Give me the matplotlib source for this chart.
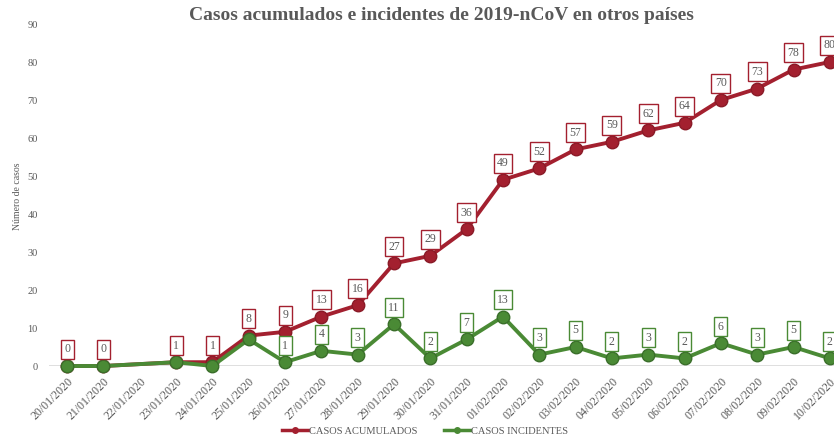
import numpy as np
import matplotlib.pyplot as plt
from matplotlib.lines import Line2D

# Data
fechas = ['20/01/2020', '21/01/2020', '22/01/2020', '23/01/2020', '24/01/2020',
          '25/01/2020', '26/01/2020', '27/01/2020', '28/01/2020', '29/01/2020',
          '30/01/2020', '31/01/2020', '01/02/2020', '02/02/2020', '03/02/2020',
          '04/02/2020', '05/02/2020', '06/02/2020', '07/02/2020', '08/02/2020',
          '09/02/2020', '10/02/2020']
# 22/01 has no value in the source (line joins 21/01 and 23/01)
acumulados = [0, 0, None, 1, 1, 8, 9, 13, 16, 27, 29, 36, 49, 52, 57, 59, 62, 64, 70, 73, 78, 80]
incidentes = [0, 0, None, 1, 0, 7, 1, 4, 3, 11, 2, 7, 13, 3, 5, 2, 3, 2, 6, 3, 5, 2]
# green labels are hidden for the first days
incid_label_from = 6

RED = '#a3202f'
GREEN = '#4a8a35'
GREY = '#595959'
SERIF = 'Liberation Serif'

plt.rcParams['font.family'] = [SERIF, 'DejaVu Serif']

fig = plt.figure(figsize=(8.34, 4.40), dpi=100)
ax = fig.add_axes([49 / 834, 1 - 366 / 440, 799 / 834, 342 / 440])

def valid(series):
    idx = [i for i, v in enumerate(series) if v is not None]
    return np.array(idx), np.array([series[i] for i in idx])

xa, ya = valid(acumulados)
xi, yi = valid(incidentes)

ax.plot(xa, ya, color=RED, lw=2.8, marker='o', ms=9, mfc=RED, mec='#8a1a27',
        mew=1, clip_on=False, zorder=3)
ax.plot(xi, yi, color=GREEN, lw=2.8, marker='o', ms=9, mfc=GREEN, mec='#3a6e2a',
        mew=1, clip_on=False, zorder=4)

def label(x, y, color):
    ax.annotate(str(y), (x, y), xytext=(0, 12), textcoords='offset points',
                ha='center', va='center', fontsize=8.5, color=GREY,
                bbox=dict(boxstyle='square,pad=0.3', fc='white', ec=color, lw=1),
                zorder=6, annotation_clip=False)

for x, y in zip(xa, ya):
    label(x, y, RED)
for x, y in zip(xi, yi):
    if x >= incid_label_from:
        label(x, y, GREEN)

ax.set_xlim(-0.5, len(fechas) - 0.5)
ax.set_ylim(0, 90)
ax.set_yticks(range(0, 91, 10))
ax.tick_params(axis='y', length=0, labelsize=7.5, labelcolor=GREY, pad=8)
ax.set_xticks(range(len(fechas)))
ax.set_xticklabels(fechas, rotation=45, ha='right', va='top', rotation_mode='anchor',
                   fontsize=8.5, color=GREY)
ax.tick_params(axis='x', length=0, pad=7)
for s in ax.spines.values():
    s.set_visible(False)
ax.axhline(0, color='#d9d9d9', lw=1.2, zorder=1)

fig.text(17 / 834, 1 - 196 / 440, 'N\u00famero de casos', rotation=90,
         ha='center', va='center', fontsize=7, color=GREY)

fig.text(441 / 834, 1 - 16 / 440, 'Casos acumulados e incidentes de 2019-nCoV en otros pa\u00edses',
         ha='center', va='center', fontsize=14, fontweight='bold', color=GREY)

handles = [Line2D([], [], color=RED, lw=2.5, marker='o', ms=4),
           Line2D([], [], color=GREEN, lw=2.5, marker='o', ms=4)]
fig.legend(handles, ['CASOS ACUMULADOS', 'CASOS INCIDENTES'], loc='center',
           bbox_to_anchor=(425 / 834, 1 - 431 / 440), ncol=2, frameon=False, fontsize=7.5,
           labelcolor=GREY, handlelength=2.5, handletextpad=0.1, columnspacing=2.5)

fig.savefig('out.png', dpi=100)
